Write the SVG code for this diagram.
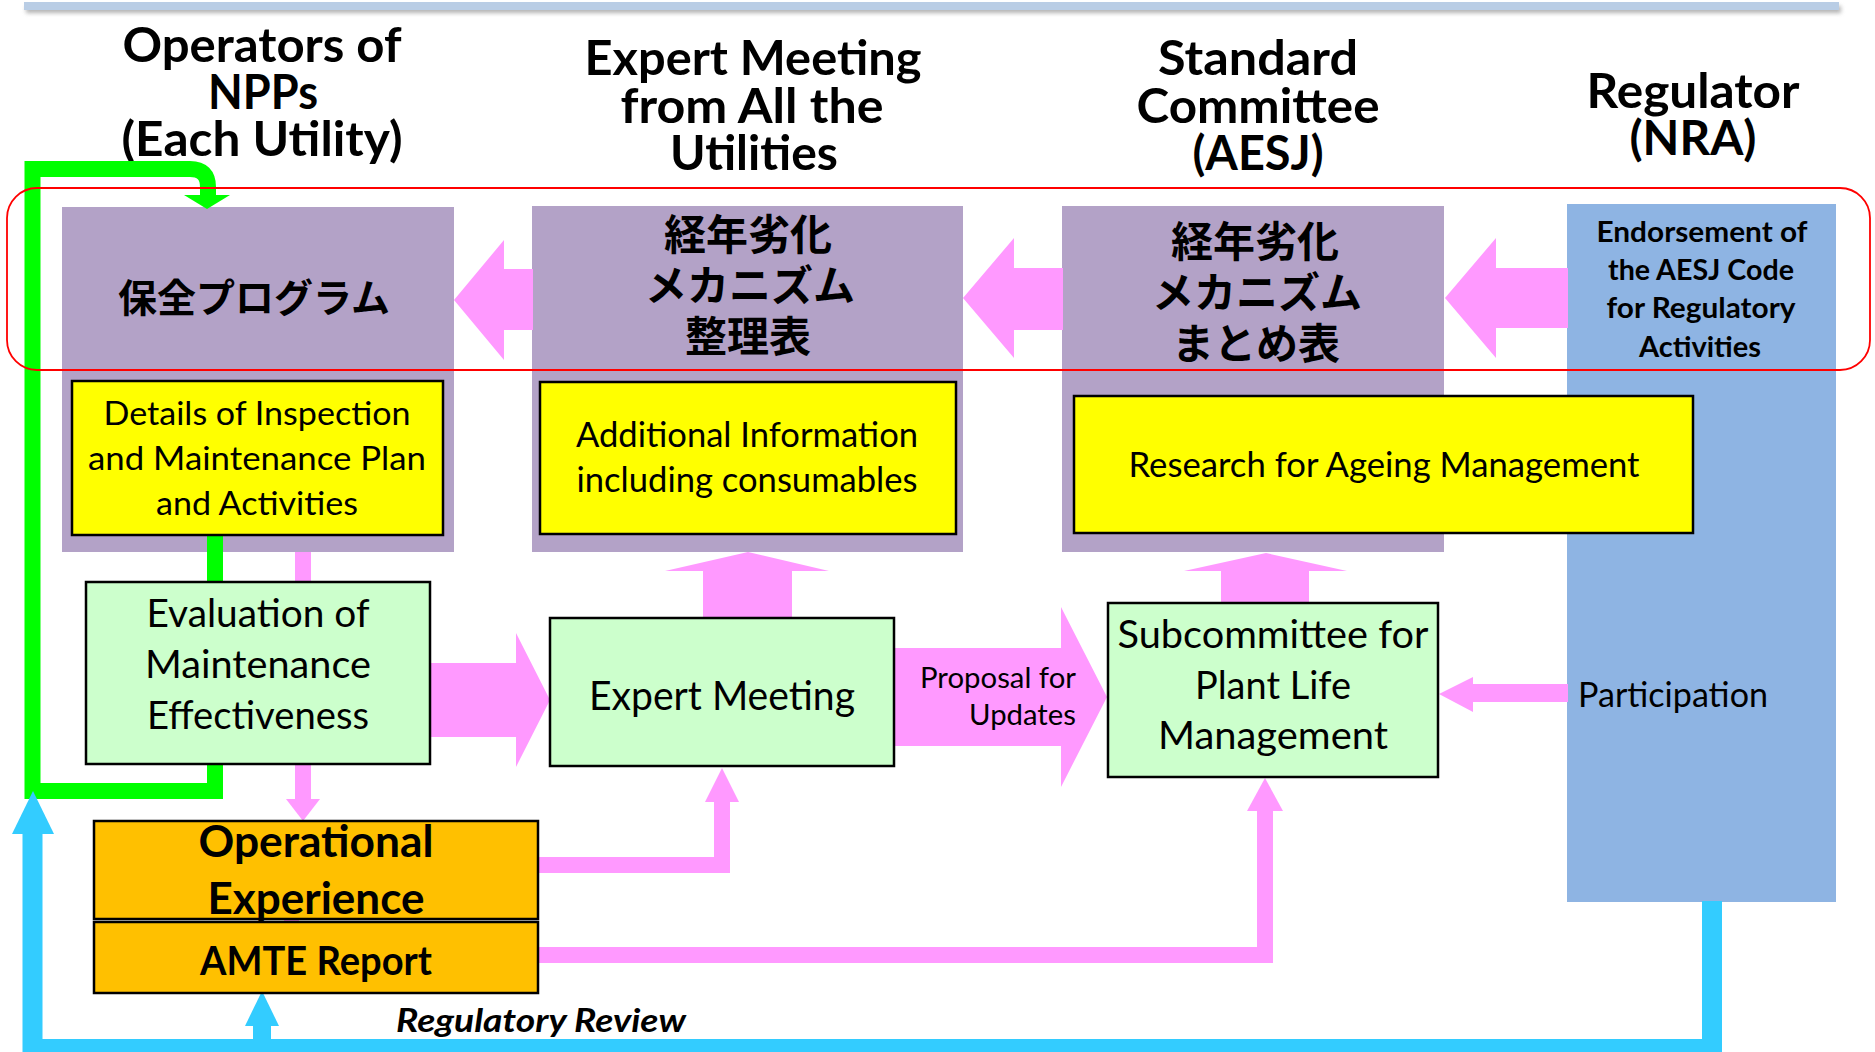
<svg xmlns="http://www.w3.org/2000/svg" width="1875" height="1052" viewBox="0 0 1875 1052">
<defs>
<style>
text{font-family:Lato,"Liberation Sans","Noto Sans CJK JP",sans-serif;fill:#000}
.hdr{font-weight:700;font-size:48px;text-anchor:middle}
.jp{font-family:"Noto Sans CJK JP","Noto Sans CJK SC",sans-serif;font-weight:700;font-size:42px;text-anchor:middle}
.c{text-anchor:middle}
.b{font-weight:700}
.purple{fill:#b3a2c7}
.yellow{fill:#ffff00;stroke:#000;stroke-width:2.5}
.mint{fill:#ccffcc;stroke:#000;stroke-width:2.5}
.orange{fill:#ffc000;stroke:#000;stroke-width:2.5}
.pink{fill:#ff99ff}
.pinkline{fill:none;stroke:#ff99ff;stroke-width:16;stroke-linejoin:miter}
</style>
<filter id="sh" x="-5%" y="-100%" width="110%" height="400%"><feGaussianBlur stdDeviation="2"/></filter>
</defs>
<rect width="1875" height="1052" fill="#fff"/>
<!-- top bar -->
<g id="topbar">
<rect x="26" y="6" width="1815" height="7" fill="#808080" opacity="0.6" filter="url(#sh)"/>
<rect x="24" y="2" width="1815" height="8" fill="#b9cde5"/>
</g>
<!-- column headers -->
<g id="header-operators">
<text class="hdr"><tspan x="262" y="62" textLength="279" lengthAdjust="spacingAndGlyphs">Operators of</tspan><tspan x="263" y="109" textLength="110" lengthAdjust="spacingAndGlyphs">NPPs</tspan><tspan x="262" y="156" textLength="281" lengthAdjust="spacingAndGlyphs">(Each Utility)</tspan></text>
</g>
<g id="header-expert">
<text class="hdr"><tspan x="753" y="75" textLength="337" lengthAdjust="spacingAndGlyphs">Expert Meeting</tspan><tspan x="752" y="123" textLength="263" lengthAdjust="spacingAndGlyphs">from All the</tspan><tspan x="754" y="170" textLength="168" lengthAdjust="spacingAndGlyphs">Utilities</tspan></text>
</g>
<g id="header-standard">
<text class="hdr"><tspan x="1258" y="75" textLength="200" lengthAdjust="spacingAndGlyphs">Standard</tspan><tspan x="1258" y="123" textLength="243" lengthAdjust="spacingAndGlyphs">Committee</tspan><tspan x="1258" y="170" textLength="131" lengthAdjust="spacingAndGlyphs">(AESJ)</tspan></text>
</g>
<g id="header-regulator">
<text class="hdr"><tspan x="1693" y="108" textLength="213" lengthAdjust="spacingAndGlyphs">Regulator</tspan><tspan x="1693" y="155" textLength="127" lengthAdjust="spacingAndGlyphs">(NRA)</tspan></text>
</g>
<!-- background nodes -->
<g id="hozen-program">
<rect class="purple" x="62" y="207" width="392" height="345"/>
<text class="jp" x="254" y="312" style="font-size:39px">保全プログラム</text>
</g>
<g id="mechanism-table">
<rect class="purple" x="532" y="206" width="431" height="346"/>
<text class="jp"><tspan x="748" y="250">経年劣化</tspan><tspan x="750" y="301">メカニズム</tspan><tspan x="748" y="352">整理表</tspan></text>
</g>
<g id="mechanism-summary">
<rect class="purple" x="1062" y="206" width="382" height="346"/>
<text class="jp"><tspan x="1255" y="257">経年劣化</tspan><tspan x="1257" y="308">メカニズム</tspan><tspan x="1256" y="359">まとめ表</tspan></text>
</g>
<g id="regulator-endorsement">
<rect x="1567" y="204" width="269" height="698" fill="#8eb4e3"/>
<text class="c b" style="font-size:29px"><tspan x="1702" y="242" textLength="211" lengthAdjust="spacingAndGlyphs">Endorsement of</tspan><tspan x="1701" y="280" textLength="186" lengthAdjust="spacingAndGlyphs">the AESJ Code</tspan><tspan x="1701" y="318" textLength="189" lengthAdjust="spacingAndGlyphs">for Regulatory</tspan><tspan x="1700" y="357" textLength="122" lengthAdjust="spacingAndGlyphs">Activities</tspan></text>
<text x="1578" y="707" style="font-size:34px" textLength="190" lengthAdjust="spacingAndGlyphs">Participation</text>
</g>
<!-- connectors -->
<g id="connectors">
<polygon class="pink" points="454,300 504,240 504,269 533,269 533,330 504,330 504,360"/>
<polygon class="pink" points="963,298 1014,238 1014,268 1063,268 1063,330 1014,330 1014,358"/>
<polygon class="pink" points="1445,298 1496,238 1496,268 1568,268 1568,328 1496,328 1496,358"/>
<polygon class="pink" points="748,552 829,571 792,571 792,619 703,619 703,571 665,571"/>
<polygon class="pink" points="1266,553 1347,571 1309,571 1309,604 1221,604 1221,571 1184,571"/>
<polygon class="pink" points="429,663 516,663 516,633 550,700 516,767 516,737 429,737"/>
<polygon class="pink" points="893,648 1061,648 1061,607 1107,697 1061,787 1061,746 893,746"/>
<text style="font-size:29px;text-anchor:end"><tspan x="1076" y="688" textLength="156" lengthAdjust="spacingAndGlyphs">Proposal for</tspan><tspan x="1076" y="725" textLength="107" lengthAdjust="spacingAndGlyphs">Updates</tspan></text>
<polygon class="pink" points="1439,694 1473,677 1473,684 1568,684 1568,702 1473,702 1473,712"/>
<rect class="pink" x="295" y="552" width="16" height="248"/>
<polygon class="pink" points="286,799 320,799 303,821"/>
<rect class="pink" x="284" y="912" width="15" height="14"/>
<path class="pinkline" d="M537 865 H722 V801"/>
<polygon class="pink" points="705,802 739,802 722,768"/>
<path class="pinkline" d="M537 955 H1265 V810"/>
<polygon class="pink" points="1247,811 1283,811 1265,778"/>
<path d="M215 533 V791 H32.5 V169 H190 Q208 169 208 187 V197" fill="none" stroke="#00ff00" stroke-width="16" stroke-linejoin="miter"/>
<polygon points="184,195 230,195 207,209" fill="#00ff00"/>
<path d="M32.5 832 V1049 H1712 V901" fill="none" stroke="#33ccff" stroke-width="20" stroke-linejoin="miter"/>
<polygon points="12,834 54,834 33,791" fill="#33ccff"/>
<rect x="253" y="1024" width="18" height="20" fill="#33ccff"/>
<polygon points="245,1026 279,1026 262,991" fill="#33ccff"/>
<text x="396" y="1032" style="font-size:33px;font-weight:700;font-style:italic" textLength="290" lengthAdjust="spacingAndGlyphs">Regulatory Review</text>
</g>
<!-- foreground nodes -->
<g id="inspection-details">
<rect class="yellow" x="72" y="381" width="371" height="154"/>
<text class="c" style="font-size:33px"><tspan x="257" y="425" textLength="307" lengthAdjust="spacingAndGlyphs">Details of Inspection</tspan><tspan x="257" y="470" textLength="338" lengthAdjust="spacingAndGlyphs">and Maintenance Plan</tspan><tspan x="257" y="515" textLength="202" lengthAdjust="spacingAndGlyphs">and Activities</tspan></text>
</g>
<g id="additional-info">
<rect class="yellow" x="540" y="382" width="416" height="152"/>
<text class="c" style="font-size:34px"><tspan x="747" y="447" textLength="342" lengthAdjust="spacingAndGlyphs">Additional Information</tspan><tspan x="747" y="492" textLength="341" lengthAdjust="spacingAndGlyphs">including consumables</tspan></text>
</g>
<g id="research">
<rect class="yellow" x="1074" y="396" width="619" height="137"/>
<text class="c" x="1384" y="477" style="font-size:35px" textLength="511" lengthAdjust="spacingAndGlyphs">Research for Ageing Management</text>
</g>
<g id="evaluation">
<rect class="mint" x="86" y="582" width="344" height="182"/>
<text class="c" style="font-size:39px"><tspan x="258" y="627" textLength="223" lengthAdjust="spacingAndGlyphs">Evaluation of</tspan><tspan x="258" y="678" textLength="226" lengthAdjust="spacingAndGlyphs">Maintenance</tspan><tspan x="258" y="729" textLength="222" lengthAdjust="spacingAndGlyphs">Effectiveness</tspan></text>
</g>
<g id="expert-meeting">
<rect class="mint" x="550" y="618" width="344" height="148"/>
<text class="c" x="722" y="710" style="font-size:40px" textLength="266" lengthAdjust="spacingAndGlyphs">Expert Meeting</text>
</g>
<g id="subcommittee">
<rect class="mint" x="1108" y="603" width="330" height="174"/>
<text class="c" style="font-size:39px"><tspan x="1273" y="648" textLength="311" lengthAdjust="spacingAndGlyphs">Subcommittee for</tspan><tspan x="1273" y="699" textLength="156" lengthAdjust="spacingAndGlyphs">Plant Life</tspan><tspan x="1273" y="749" textLength="230" lengthAdjust="spacingAndGlyphs">Management</tspan></text>
</g>
<g id="operational-experience">
<rect class="orange" x="94" y="821" width="444" height="98"/>
<text class="c b" style="font-size:44px"><tspan x="316" y="857" textLength="235" lengthAdjust="spacingAndGlyphs">Operational</tspan><tspan x="316" y="914" textLength="217" lengthAdjust="spacingAndGlyphs">Experience</tspan></text>
</g>
<g id="amte-report">
<rect class="orange" x="94" y="922" width="444" height="71"/>
<text class="c b" x="316" y="975" style="font-size:40px" textLength="232" lengthAdjust="spacingAndGlyphs">AMTE Report</text>
</g>
<g id="highlight">
<rect x="7" y="188" width="1863" height="182" rx="30" ry="30" fill="none" stroke="#ff0000" stroke-width="1.8"/>
</g>
</svg>
